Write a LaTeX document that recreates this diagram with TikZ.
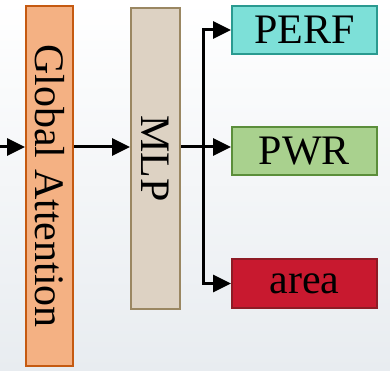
\documentclass[tikz,border=0pt]{standalone}
\usepackage{fontspec}
\setmainfont{Liberation Serif}
\usetikzlibrary{arrows.meta}

\definecolor{gafill}{HTML}{F4B183}
\definecolor{gaedge}{HTML}{C55A11}
\definecolor{mlpfill}{HTML}{DDD2C3}
\definecolor{mlpedge}{HTML}{9A8762}
\definecolor{perffill}{HTML}{7DE0D8}
\definecolor{perfedge}{HTML}{2A9A90}
\definecolor{pwrfill}{HTML}{A9D18E}
\definecolor{pwredge}{HTML}{5B8E3A}
\definecolor{areafill}{HTML}{C8192F}
\definecolor{areaedge}{HTML}{8E1B25}

\tikzset{
    block/.style={draw, line width=2pt, inner sep=0pt, font=\fontsize{42}{42}\selectfont},
    flow/.style={line width=3pt, -{Triangle[length=18pt,width=17pt]}}
}

\begin{document}
\begin{tikzpicture}[x=1pt, y=-1pt]
    % Background
    \useasboundingbox (0,0) rectangle (390,371);
    \shade[top color=white, bottom color={rgb,255:red,232;green,236;blue,240}] (0,0) rectangle (390,371);

    % Draw blocks
    \node[block, fill=gafill, draw=gaedge, minimum width=47pt, minimum height=360pt] (ga) at (49.5,186) {\rotatebox{-90}{Global Attention}};
    \node[block, fill=mlpfill, draw=mlpedge, minimum width=49pt, minimum height=301pt] (mlp) at (155.5,158.5) {\rotatebox{-90}{MLP}};

    % Draw outputs
    \node[block, fill=perffill, draw=perfedge, minimum width=145pt, minimum height=48pt] (perf) at (304.5,30) {PERF};
    \node[block, fill=pwrfill, draw=pwredge, minimum width=145pt, minimum height=48pt] (pwr) at (304.5,151) {PWR};
    \node[block, fill=areafill, draw=areaedge, minimum width=145pt, minimum height=49pt] (area) at (304.5,283.5) {area};

    % Draw arrows
    \coordinate (in) at (0,147);
    \coordinate (split) at (203,147);
    \draw[flow] (in) -- (ga.west |- in);
    \draw[flow] (ga.east |- in) -- (mlp.west |- in);
    \draw[flow] (mlp.east |- in) -- (pwr.west |- in);
    \draw[flow] (split) -- (split |- perf.west) -- (perf.west);
    \draw[flow] (split) -- (split |- area.west) -- (area.west);
\end{tikzpicture}
\end{document}
